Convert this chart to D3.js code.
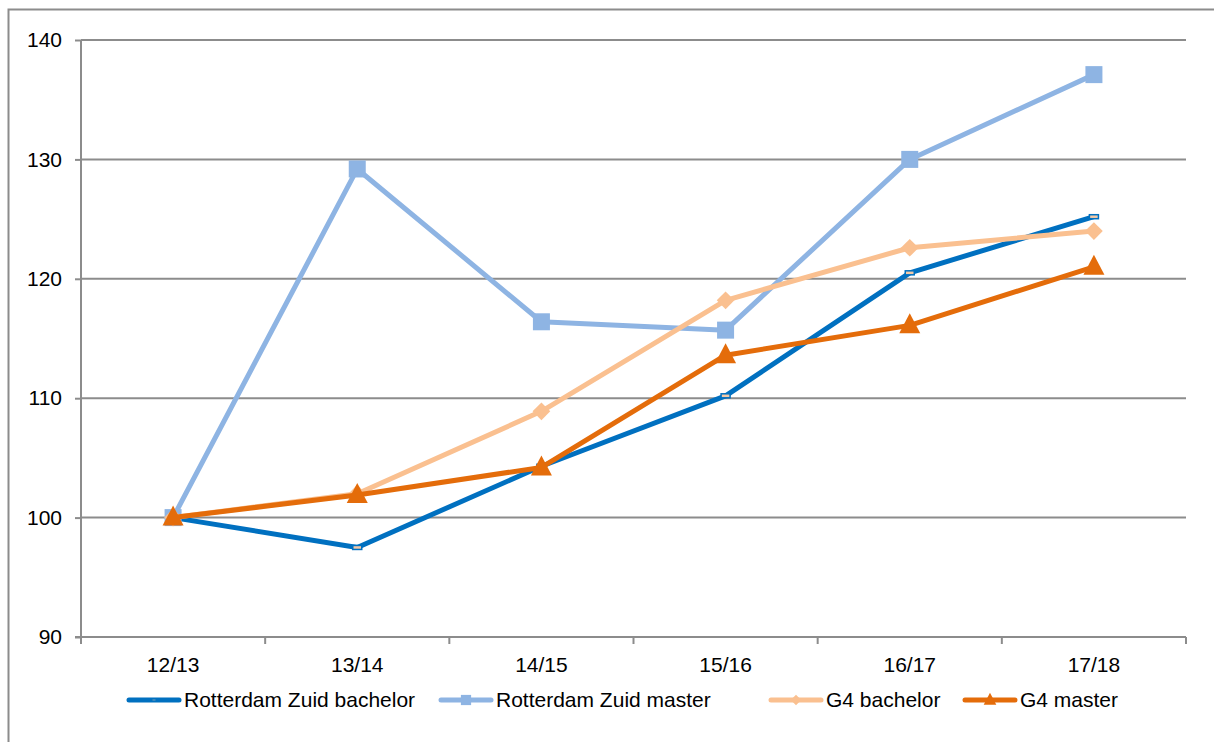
<!DOCTYPE html>
<html>
<head>
<meta charset="utf-8">
<script src="https://cdn.jsdelivr.net/npm/d3@7"></script>
<style>
  body { margin: 0; background: #fff; }
  svg { display: block; font-family: "Liberation Sans", Arial, sans-serif; }
</style>
</head>
<body>
<svg class="chart" width="1214" height="742"></svg>
<script>
// Index values (12/13 = 100)
var years = ["12/13", "13/14", "14/15", "15/16", "16/17", "17/18"];
var rzBachelor = [100, 97.5, 104.3, 110.2, 120.5, 125.2];
var rzMaster = [100, 129.2, 116.4, 115.7, 130.0, 137.1];
var g4Bachelor = [100, 102.0, 108.9, 118.2, 122.6, 124.0];
var g4Master = [100, 101.9, 104.2, 113.6, 116.1, 121.0];
var yTicks = [90, 100, 110, 120, 130, 140];

var series = [
  { name: "Rotterdam Zuid bachelor", values: rzBachelor, color: "#0070C0", marker: "dash" },
  { name: "Rotterdam Zuid master", values: rzMaster, color: "#8EB4E3", marker: "square" },
  { name: "G4 bachelor", values: g4Bachelor, color: "#FAC090", marker: "diamond" },
  { name: "G4 master", values: g4Master, color: "#E46C0A", marker: "triangle" }
];

var fontSize = "21px";
var margin = { top: 40, left: 81, right: 28, bottom: 105 };
var width = 1214 - margin.left - margin.right;   // 1105
var height = 742 - margin.top - margin.bottom;   // 597

var svg = d3.select(".chart");

// outer chart border (right and bottom sides fall outside the picture)
svg.append("rect")
  .attr("x", 8.5).attr("y", 9.5)
  .attr("width", 1220).attr("height", 750)
  .attr("fill", "none")
  .attr("stroke", "#8c8c8c")
  .attr("stroke-width", 2);

var chart = svg.append("g")
  .attr("transform", "translate(" + margin.left + "," + margin.top + ")");

var x = d3.scaleBand().domain(years).range([0, width]);
var y = d3.scaleLinear().domain([90, 140]).range([height, 0]);
var cx = function(i) { return x(years[i]) + x.bandwidth() / 2; };

// gridlines
chart.selectAll(".grid")
  .data(yTicks.filter(function(d) { return d > 90; }))
  .enter().append("line")
  .attr("class", "grid")
  .attr("x1", 0).attr("x2", width)
  .attr("y1", function(d) { return y(d); })
  .attr("y2", function(d) { return y(d); })
  .attr("stroke", "#8c8c8c")
  .attr("stroke-width", 2);

// y axis
var yAxis = d3.axisLeft(y).tickValues(yTicks).tickSize(6).tickPadding(13);
var gy = chart.append("g").attr("class", "y axis").call(yAxis);
gy.attr("font-family", null).attr("font-size", null);
gy.select(".domain").attr("stroke", "#8c8c8c").attr("stroke-width", 2).attr("d", "M0," + (height + 6) + "V0");
gy.selectAll(".tick line").attr("stroke", "#8c8c8c").attr("stroke-width", 2);
gy.selectAll(".tick text")
  .attr("fill", "#000")
  .style("font-size", fontSize);

// x axis: ticks at category boundaries
var gx = chart.append("g")
  .attr("class", "x axis")
  .attr("transform", "translate(0," + height + ")");
gx.append("line")
  .attr("x1", -6).attr("x2", width)
  .attr("stroke", "#8c8c8c").attr("stroke-width", 2);
gx.selectAll(".xtick")
  .data(d3.range(years.length + 1))
  .enter().append("line")
  .attr("class", "xtick")
  .attr("x1", function(i) { return i * x.step(); })
  .attr("x2", function(i) { return i * x.step(); })
  .attr("y1", 0).attr("y2", 7)
  .attr("stroke", "#8c8c8c").attr("stroke-width", 2);
gx.selectAll(".xlabel")
  .data(years)
  .enter().append("text")
  .attr("class", "xlabel")
  .attr("x", function(d) { return x(d) + x.bandwidth() / 2; })
  .attr("y", 35)
  .attr("text-anchor", "middle")
  .style("font-size", fontSize)
  .attr("fill", "#000")
  .text(function(d) { return d; });

// marker drawing
function drawMarker(g, type, color, px, py, scale) {
  var s = scale || 1;
  if (type === "square") {
    g.append("rect")
      .attr("x", px - 8.5 * s).attr("y", py - 8.5 * s)
      .attr("width", 17 * s).attr("height", 17 * s)
      .attr("fill", color);
  } else if (type === "diamond") {
    g.append("path")
      .attr("d", d3.symbol().type(d3.symbolDiamond2).size(200 * s * s)())
      .attr("transform", "translate(" + px + "," + py + ")")
      .attr("fill", color);
  } else if (type === "triangle") {
    var w = 21 * s, h = 20 * s;
    g.append("path")
      .attr("d", "M" + px + "," + (py - h * 0.6) + "L" + (px + w / 2) + "," + (py + h * 0.4) + "L" + (px - w / 2) + "," + (py + h * 0.4) + "Z")
      .attr("fill", color);
  } else if (type === "dash") {
    g.append("rect")
      .attr("x", px - 4.5 * s).attr("y", py - 2 * s)
      .attr("width", 9 * s).attr("height", 4 * s)
      .attr("fill", "#F2C9A8")
      .attr("stroke", color)
      .attr("stroke-width", 1.5);
  }
}

var line = d3.line()
  .x(function(d, i) { return cx(i); })
  .y(function(d) { return y(d); });

series.forEach(function(s) {
  var g = chart.append("g").attr("class", "series");
  g.append("path")
    .datum(s.values)
    .attr("d", line)
    .attr("fill", "none")
    .attr("stroke", s.color)
    .attr("stroke-width", 5)
    .attr("stroke-linejoin", "round");
  s.values.forEach(function(v, i) {
    drawMarker(g, s.marker, s.color, cx(i), y(v), 1);
  });
});

// legend
var legendX = [127, 439, 769, 963];
var legend = svg.append("g").attr("class", "legend");
series.forEach(function(s, i) {
  var lx = legendX[i], ly = 700;
  legend.append("line")
    .attr("x1", lx + 2).attr("x2", lx + 52)
    .attr("y1", ly).attr("y2", ly)
    .attr("stroke", s.color)
    .attr("stroke-width", 5)
    .attr("stroke-linecap", "round");
  drawMarker(legend, s.marker, s.color, lx + 27, ly, s.marker === "dash" ? 0.5 : 0.6);
  legend.append("text")
    .attr("x", lx + 57)
    .attr("y", 707)
    .style("font-size", fontSize)
    .attr("fill", "#000")
    .text(s.name);
});
</script>
</body>
</html>
